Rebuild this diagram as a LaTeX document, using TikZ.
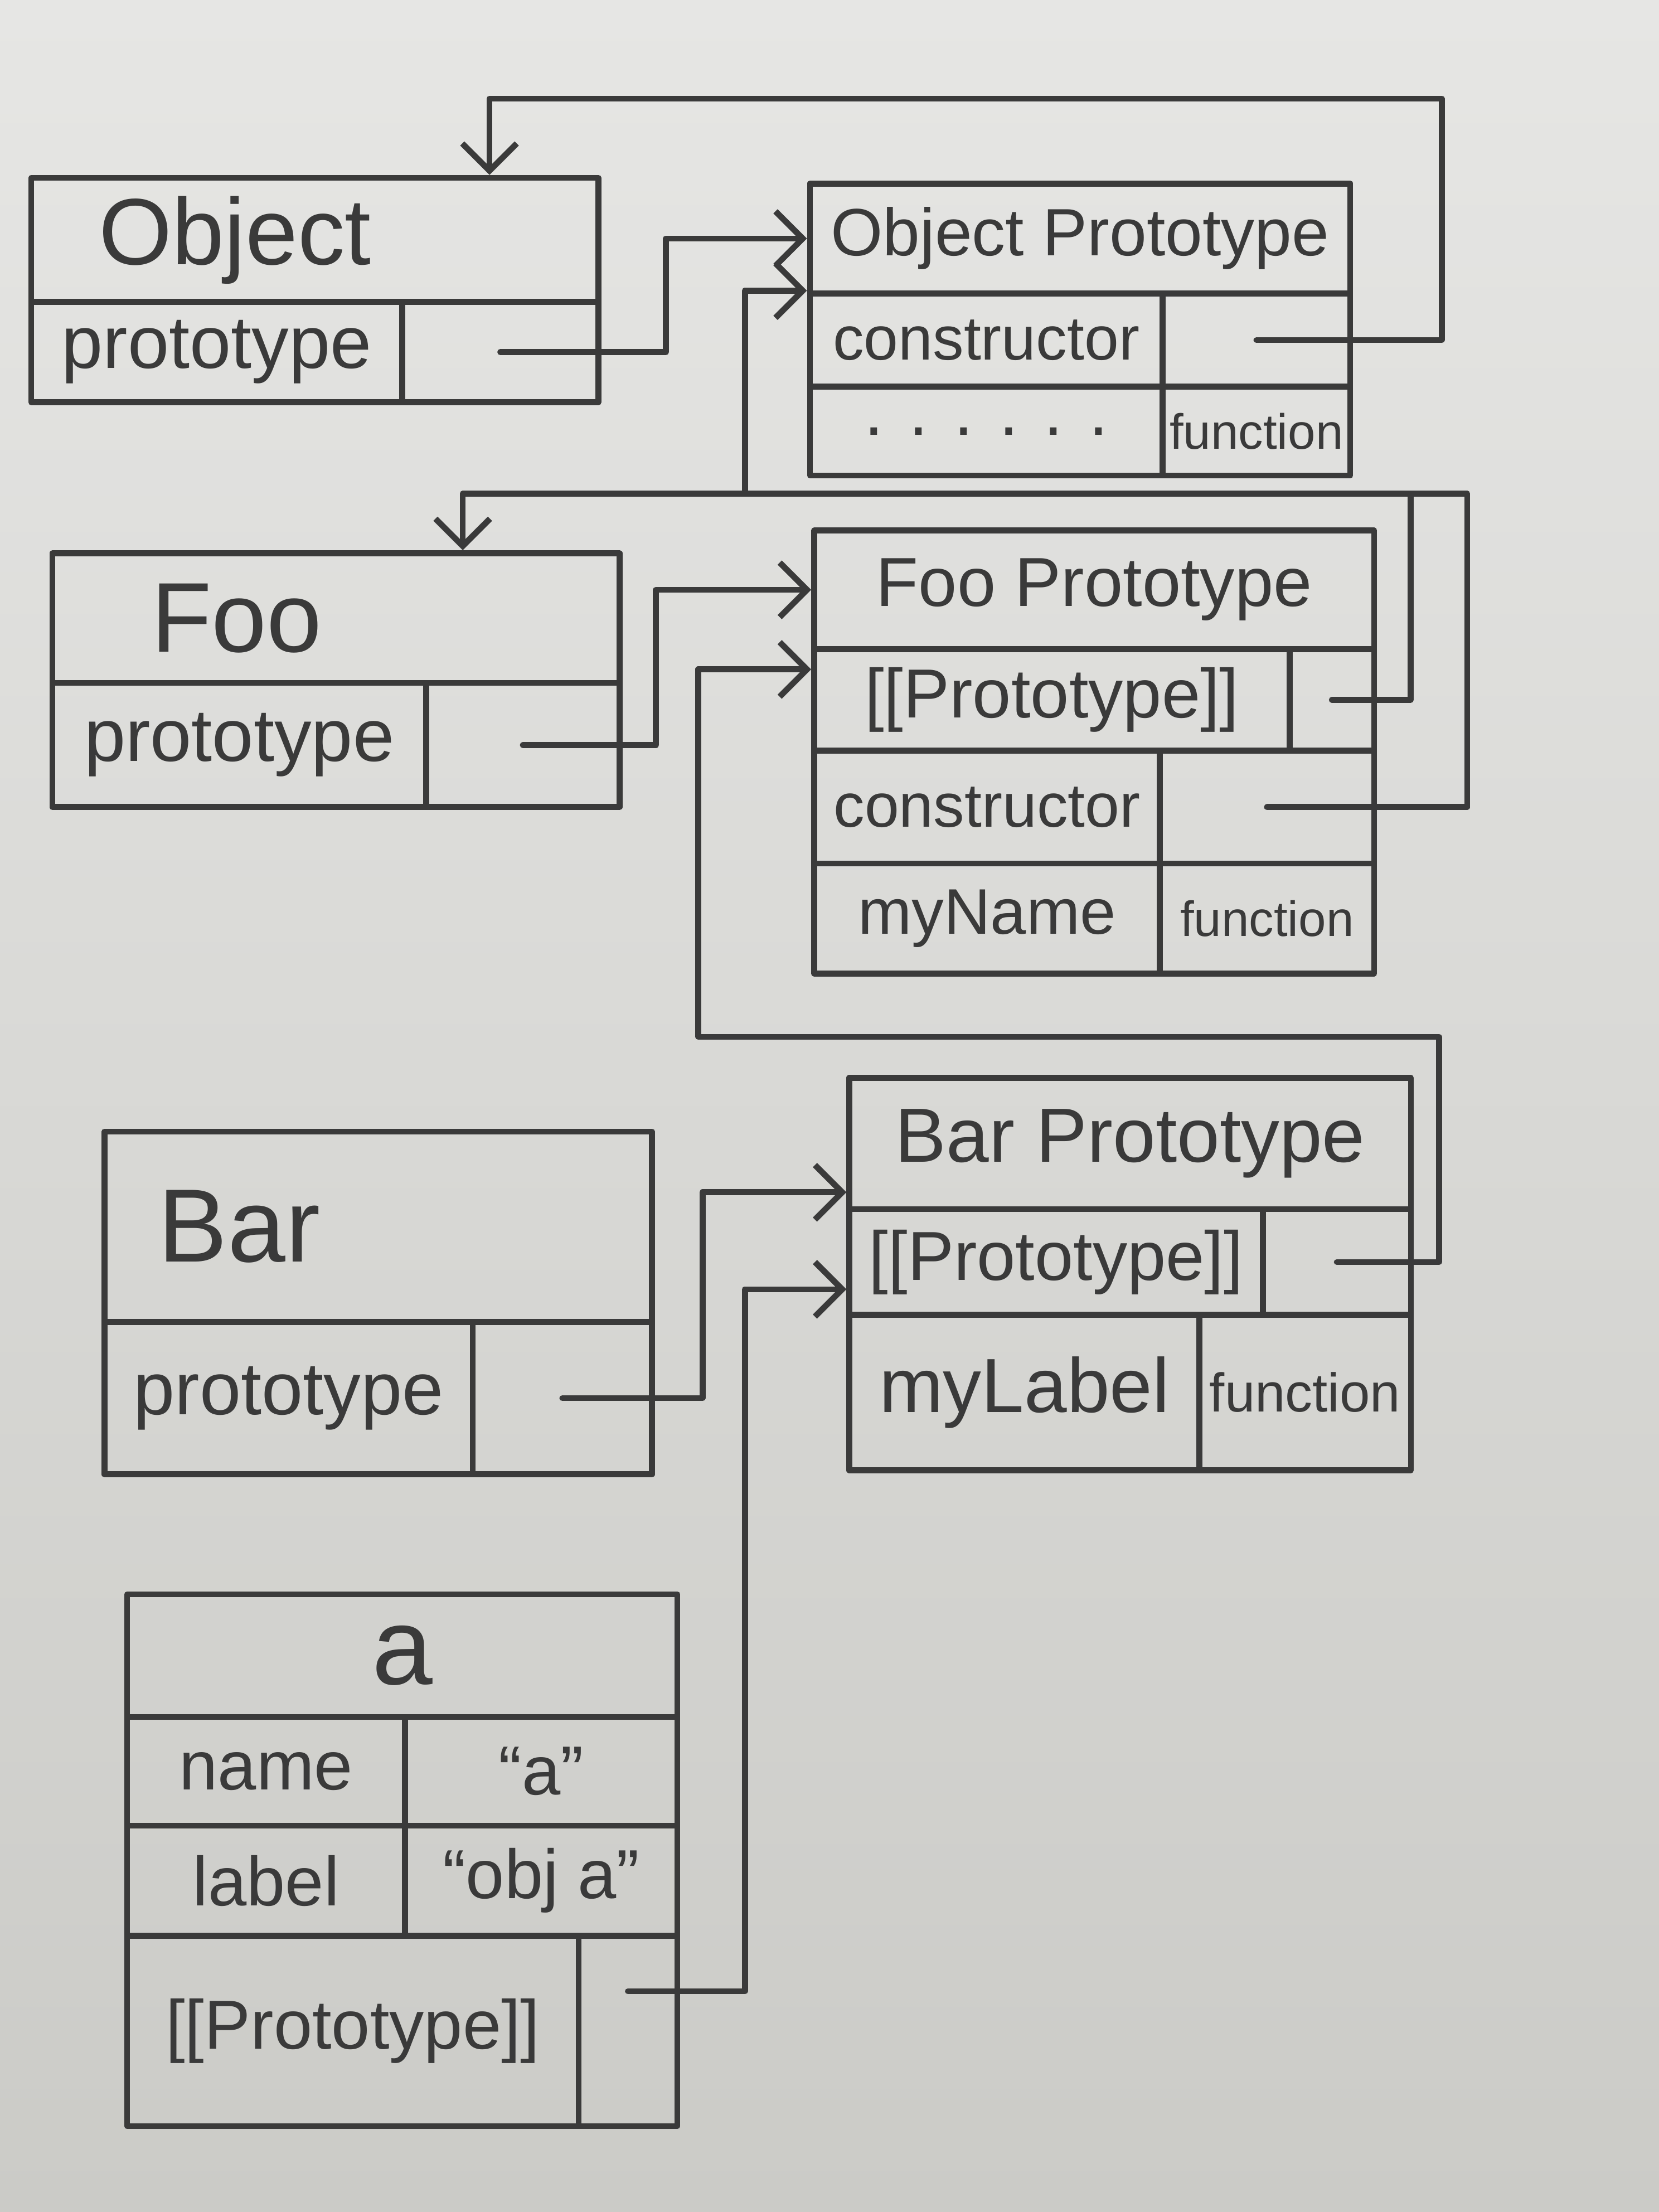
\documentclass[tikz,border=0pt]{standalone}
\usepackage{fontspec}
\setmainfont{Liberation Sans}
\usetikzlibrary{arrows.meta,calc}
\definecolor{ink}{HTML}{3A3A3A}
\definecolor{paperT}{HTML}{E6E6E4}
\definecolor{paperB}{HTML}{CBCBC7}
\begin{document}
\begin{tikzpicture}[x=0.02cm,y=-0.02cm,line join=round,line cap=round,
  cellbox/.style 2 args={draw=ink, line width=2.4pt, anchor=north west, inner sep=0pt,
    minimum width=#1*0.02cm, minimum height=#2*0.02cm, text=ink,
    font=\fontsize{28}{32}\selectfont},
  fs/.style={font=\fontsize{#1}{#1}\selectfont},
  lft/.style={align=left, text width=#1*0.02cm},
  arr/.style={draw=ink, line width=2.4pt,
    -{Straight Barb[length=11pt,width=22pt,line width=2.4pt]}}
]
\shade[top color=paperT, bottom color=paperB] (0,0) rectangle (1176,1568);
\useasboundingbox (0,0) rectangle (1176,1568);

% Object
\node[cellbox={402}{88}, fs=38, lft=306] (objT) at (20,124) {Object};
\node[cellbox={263}{71}, fs=30] (objP) at (20,212) {prototype};
\node[cellbox={139}{71}] (objPV) at (283,212) {};

% Object Prototype
\node[cellbox={383}{78}, fs=27] (opT) at (572,128) {Object Prototype};
\node[cellbox={250}{66}, fs=25] (opC) at (572,206) {constructor};
\node[cellbox={133}{66}] (opCV) at (822,206) {};
\node[cellbox={250}{63}, fs=28] (opD) at (572,272) {. . . . . .};
\node[cellbox={133}{63}, fs=20] (opF) at (822,272) {function};

% Foo
\node[cellbox={402}{92}, fs=40, lft=262] (fooT) at (35,390) {Foo};
\node[cellbox={265}{88}, fs=30] (fooP) at (35,482) {prototype};
\node[cellbox={137}{88}] (fooPV) at (300,482) {};

% Foo Prototype
\node[cellbox={397}{84}, fs=28] (fpT) at (575,374) {Foo Prototype};
\node[cellbox={337}{72}, fs=28] (fpPP) at (575,458) {[[Prototype]]};
\node[cellbox={60}{72}] (fpPPV) at (912,458) {};
\node[cellbox={245}{80}, fs=25] (fpC) at (575,530) {constructor};
\node[cellbox={152}{80}] (fpCV) at (820,530) {};
\node[cellbox={245}{78}, fs=26] (fpN) at (575,610) {myName};
\node[cellbox={152}{78}, fs=20] (fpF) at (820,610) {function};

% Bar
\node[cellbox={388}{135}, fs=42, lft=312] (barT) at (72,800) {Bar};
\node[cellbox={261}{108}, fs=30] (barP) at (72,935) {prototype};
\node[cellbox={127}{108}] (barPV) at (333,935) {};

% Bar Prototype
\node[cellbox={398}{93}, fs=31] (bpT) at (600,762) {Bar Prototype};
\node[cellbox={293}{75}, fs=28] (bpPP) at (600,855) {[[Prototype]]};
\node[cellbox={105}{75}] (bpPPV) at (893,855) {};
\node[cellbox={248}{110}, fs=31] (bpL) at (600,930) {myLabel};
\node[cellbox={150}{110}, fs=22] (bpF) at (848,930) {function};

% a
\node[cellbox={390}{87}, fs=44] (aT) at (88,1128) {a};
\node[cellbox={197}{77}, fs=28] (aN) at (88,1215) {name};
\node[cellbox={193}{77}, fs=28] (aNV) at (285,1215) {“a”};
\node[cellbox={197}{78}, fs=28] (aL) at (88,1292) {label};
\node[cellbox={193}{78}, fs=28] (aLV) at (285,1292) {“obj a”};
\node[cellbox={320}{135}, fs=28] (aPP) at (88,1370) {[[Prototype]]};
\node[cellbox={70}{135}] (aPPV) at (408,1370) {};

% connectors
\coordinate (k1) at (472,0);
\draw[arr] (objPV.center) -- (objPV.center -| k1) -- (opT.west -| k1) -- (opT.west);

\coordinate (k2a) at (1022,70);
\coordinate (k2b) at (347,70);
\draw[arr] (opCV.center) -- (opCV.center -| k2a) -- (k2a) -- (k2b) -- (k2b |- objT.north);

\coordinate (k3) at (465,0);
\draw[arr] (fooPV.center) -- (fooPV.center -| k3) -- (fpT.west -| k3) -- (fpT.west);

\coordinate (k4a) at (1000,350);
\coordinate (k4b) at (528,350);
\draw[arr] (fpPPV.center) -- (fpPPV.center -| k4a) -- (k4a) -- (k4b) -- (k4b |- opC.north west) -- (opC.north west);

\coordinate (k5a) at (1040,350);
\coordinate (k5b) at (328,350);
\draw[arr] (fpCV.center) -- (fpCV.center -| k5a) -- (k5a) -- (k5b) -- (k5b |- fooT.north);

\coordinate (k6) at (498,0);
\coordinate (t6) at ([yshift=8pt]bpT.south west);
\draw[arr] (barPV.center) -- (barPV.center -| k6) -- (t6 -| k6) -- (t6);

\coordinate (k7a) at (1020,735);
\coordinate (k7b) at (495,735);
\coordinate (t7) at ([yshift=-7pt]fpT.south west);
\draw[arr] (bpPPV.center) -- (bpPPV.center -| k7a) -- (k7a) -- (k7b) -- (k7b |- t7) -- (t7);

\coordinate (k8) at (528,0);
\coordinate (s8) at ([yshift=16pt]aPPV.center);
\coordinate (t8) at ([yshift=-11pt]bpPP.west);
\draw[arr] (s8) -- (s8 -| k8) -- (t8 -| k8) -- (t8);
\end{tikzpicture}
\end{document}
